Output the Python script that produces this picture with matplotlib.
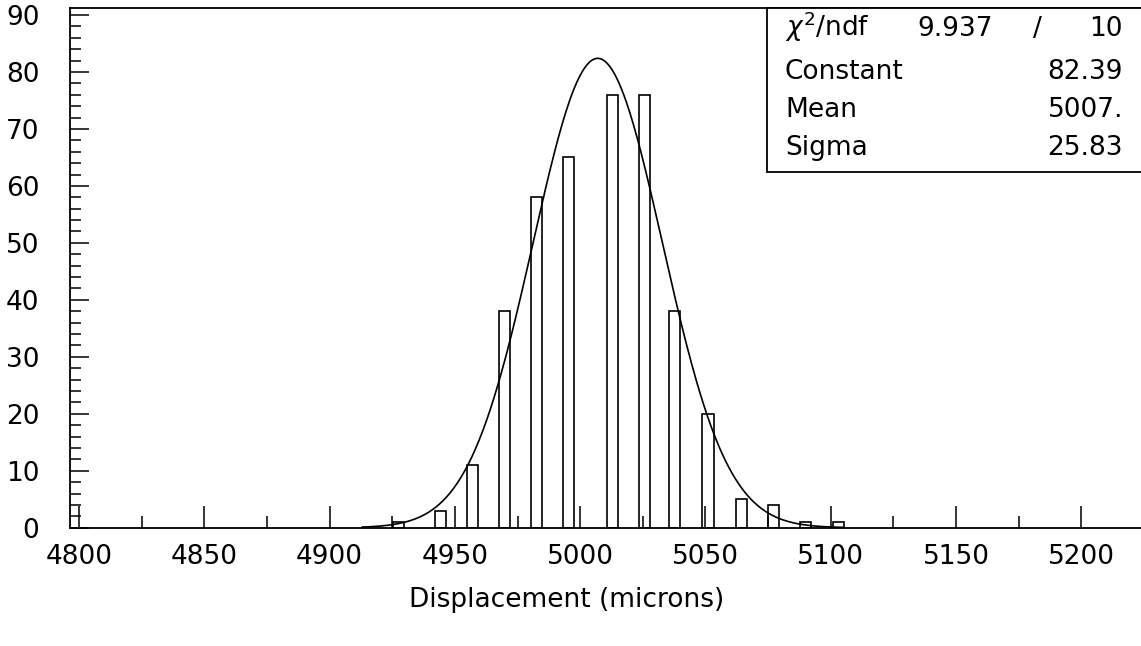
import numpy as np
import matplotlib.pyplot as plt
from matplotlib.patches import Rectangle
from matplotlib.ticker import MultipleLocator

# histogram bins (bar centres in microns, entries)
bin_centers = [4927.3, 4944.3, 4957.2, 4969.8, 4982.6, 4995.3, 5012.7,
               5025.7, 5037.8, 5051.0, 5064.2, 5077.1, 5090.1, 5102.9]
bin_counts = [1, 3, 11, 38, 58, 65, 76, 76, 38, 20, 5, 4, 1, 1]

# gaussian fit parameters as printed in the stats box
fit_constant = 82.39
fit_mean = 5007.0
fit_sigma = 25.83
fit_range = (4913, 5105)

stats_names = ['Constant', 'Mean', 'Sigma']
stats_values = ['82.39', '5007.', '25.83']
chi2_text = '9.937'
ndf_text = '10'


def main():
    plt.rcParams['font.family'] = ['DejaVu Sans']
    fig = plt.figure(figsize=(11.41, 6.46), dpi=100)
    W, H = 1141, 646
    left, right, top, bottom = 70, 1141, 8, 527.7
    ax = fig.add_axes([left / W, 1 - bottom / H, (right - left) / W, (bottom - top) / H])

    ax.bar(bin_centers, bin_counts, width=4.4, fill=False, edgecolor='black', linewidth=1.2)

    xf = np.linspace(fit_range[0], fit_range[1], 400)
    yf = fit_constant * np.exp(-0.5 * ((xf - fit_mean) / fit_sigma) ** 2)
    ax.plot(xf, yf, c='black', lw=1.2)

    ax.set_xlim(4796.4, 5223.8)
    ax.set_ylim(0, 91.23)
    ax.xaxis.set_major_locator(MultipleLocator(50))
    ax.xaxis.set_minor_locator(MultipleLocator(25))
    ax.yaxis.set_major_locator(MultipleLocator(10))
    ax.yaxis.set_minor_locator(MultipleLocator(2))
    ax.tick_params(axis='both', which='both', direction='in', width=1.1, labelsize=19)
    ax.tick_params(axis='x', which='major', length=16, pad=12)
    ax.tick_params(axis='x', which='minor', length=9)
    ax.tick_params(axis='y', which='major', length=14, pad=22)
    ax.tick_params(axis='y', which='minor', length=8)
    ax.spines['right'].set_visible(False)
    for s in ['left', 'bottom', 'top']:
        ax.spines[s].set_linewidth(1.3)

    # stats box in the top right corner
    bx0 = (767 - left) / (right - left)
    by0 = (bottom - 172) / (bottom - top)
    ax.add_patch(Rectangle((bx0, by0), 1.2 - bx0, 1 - by0, transform=ax.transAxes,
                           fill=True, facecolor='white', edgecolor='black', lw=1.3,
                           clip_on=False, zorder=5))

    def fx(px):
        return px / W

    def fy(py):
        return 1 - py / H

    rows = [36, 79, 117, 155]
    fs = 19
    fig.text(fx(785), fy(rows[0]), r'$\chi^2$/ndf', fontsize=fs, va='baseline', ha='left', zorder=6)
    fig.text(fx(993), fy(rows[0]), chi2_text, fontsize=fs, va='baseline', ha='right', zorder=6)
    fig.text(fx(1037), fy(rows[0]), '/', fontsize=fs, va='baseline', ha='center', zorder=6)
    fig.text(fx(1123), fy(rows[0]), ndf_text, fontsize=fs, va='baseline', ha='right', zorder=6)
    for i, (name, val) in enumerate(zip(stats_names, stats_values)):
        fig.text(fx(785), fy(rows[i + 1]), name, fontsize=fs, va='baseline', ha='left', zorder=6)
        fig.text(fx(1123), fy(rows[i + 1]), val, fontsize=fs, va='baseline', ha='right', zorder=6)

    fig.text(fx(567), fy(600), 'Displacement (microns)', fontsize=19, ha='center', va='center')

    fig.savefig('out.png', dpi=100)
    return 0


if __name__ == '__main__':
    main()
